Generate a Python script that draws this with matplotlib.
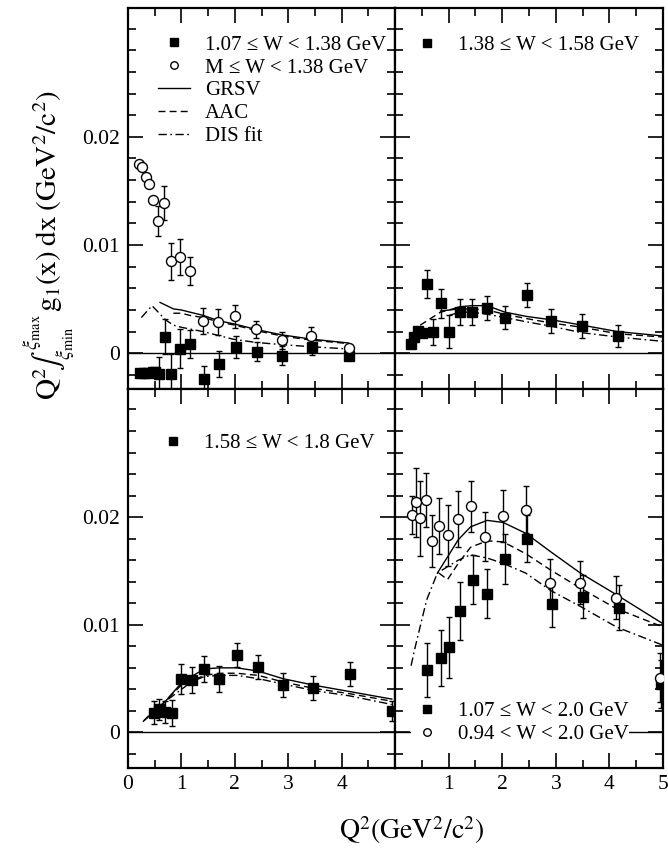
import matplotlib
matplotlib.use("Agg")
import matplotlib.pyplot as plt
from matplotlib.ticker import FixedLocator, MultipleLocator, NullFormatter

plt.rcParams['font.family'] = ['Liberation Serif', 'DejaVu Serif']
plt.rcParams['mathtext.fontset'] = 'stix'

# ---------------- data ----------------
# top-left: 1.07 <= W < 1.38 (squares), M <= W < 1.38 (circles)
tl_sq_x = [0.22, 0.30, 0.38, 0.46, 0.50, 0.585, 0.70, 0.80, 0.98, 1.16, 1.43, 1.70, 2.03, 2.41, 2.88, 3.45, 4.13]
tl_sq_y = [-0.0018, -0.00185, -0.0018, -0.0017, -0.0017, -0.0019, 0.00153, -0.0019, 0.00043, 0.00083,
           -0.00234, -0.00102, 0.00061, 0.00015, -0.00022, 0.00061, -0.00022]
tl_sq_e = [0.0002, 0.0002, 0.0002, 0.0002, 0.0002, 0.0016, 0.0016, 0.0018, 0.0018, 0.0013,
           0.0012, 0.0012, 0.0010, 0.0009, 0.0009, 0.0008, 0.0003]
tl_ci_x = [0.21, 0.26, 0.33, 0.40, 0.47, 0.57, 0.67, 0.80, 0.97, 1.16, 1.41, 1.68, 2.00, 2.40, 2.88, 3.43, 4.14]
tl_ci_y = [0.01745, 0.0172, 0.0163, 0.0156, 0.0142, 0.0122, 0.0139, 0.0085, 0.0089, 0.0076,
           0.0030, 0.0029, 0.0034, 0.0022, 0.0012, 0.0016, 0.0005]
tl_ci_e = [0.0002, 0.0002, 0.0002, 0.0002, 0.0002, 0.0014, 0.0016, 0.0017, 0.0017, 0.0013,
           0.0012, 0.0012, 0.0011, 0.0008, 0.0008, 0.0008, 0.0003]
tl_grsv_x = [0.60, 0.85, 1.00, 1.16, 1.41, 1.70, 2.00, 2.40, 2.88, 3.45, 4.13]
tl_grsv_y = [0.0047, 0.0041, 0.0040, 0.0038, 0.0035, 0.0030, 0.0027, 0.0022, 0.0017, 0.0013, 0.00095]
tl_aac_x = [0.85, 1.00, 1.16, 1.41, 1.70, 2.00, 2.40, 2.88, 3.45, 4.13]
tl_aac_y = [0.0037, 0.0037, 0.0035, 0.0033, 0.0029, 0.0026, 0.0021, 0.0016, 0.0012, 0.0009]
tl_dis_x = [0.25, 0.45, 0.70, 0.85, 1.00, 1.41, 1.97, 2.40, 2.88, 3.45, 4.13]
tl_dis_y = [0.0033, 0.0044, 0.0031, 0.0026, 0.0024, 0.0020, 0.0013, 0.0010, 0.0008, 0.0006, 0.0004]

# top-right: 1.38 <= W < 1.58
tr_sq_x = [0.29, 0.36, 0.43, 0.50, 0.60, 0.71, 0.85, 1.01, 1.21, 1.44, 1.72, 2.05, 2.46, 2.91, 3.49, 4.16]
tr_sq_y = [0.0009, 0.0015, 0.0021, 0.0019, 0.0064, 0.0020, 0.0046, 0.0020, 0.0038, 0.0038,
           0.0042, 0.0033, 0.0054, 0.0030, 0.0025, 0.0016]
tr_sq_e = [0.0002, 0.0002, 0.0002, 0.0002, 0.0013, 0.0012, 0.0013, 0.0015, 0.0012, 0.0012,
           0.0011, 0.0011, 0.0011, 0.0011, 0.0011, 0.0010]
tr_grsv_x = [0.85, 1.01, 1.21, 1.44, 1.72, 2.05, 2.46, 2.91, 3.49, 4.16, 5.0]
tr_grsv_y = [0.0039, 0.0040, 0.0043, 0.0044, 0.0044, 0.0038, 0.0034, 0.0031, 0.0026, 0.0020, 0.0016]
tr_aac_x = [0.47, 0.85, 1.01, 1.21, 1.44, 1.72, 2.05, 2.46, 2.91, 3.49, 4.16, 5.0]
tr_aac_y = [0.0026, 0.0038, 0.0040, 0.0041, 0.0041, 0.0040, 0.0036, 0.0032, 0.0028, 0.0024, 0.0018, 0.0015]
tr_dis_x = [1.01, 1.21, 1.44, 1.72, 2.05, 2.46, 2.91, 3.49, 4.16, 5.0]
tr_dis_y = [0.0035, 0.0038, 0.0038, 0.0036, 0.0033, 0.0029, 0.0025, 0.0019, 0.0015, 0.0011]

# bottom-left: 1.58 <= W < 1.8
bl_sq_x = [0.49, 0.58, 0.70, 0.83, 1.00, 1.19, 1.43, 1.70, 2.04, 2.44, 2.90, 3.47, 4.15, 4.94]
bl_sq_y = [0.00185, 0.00215, 0.0019, 0.0018, 0.0050, 0.0049, 0.0059, 0.0050, 0.0072, 0.0061,
           0.0044, 0.0041, 0.0054, 0.0020]
bl_sq_e = [0.0011, 0.0010, 0.0010, 0.0012, 0.0014, 0.0012, 0.0012, 0.0012, 0.0011, 0.0011,
           0.0011, 0.0011, 0.0011, 0.0009]
bl_grsv_x = [0.49, 1.00, 1.19, 1.43, 1.70, 2.04, 2.44, 2.90, 3.47, 4.15, 4.94]
bl_grsv_y = [0.0017, 0.0046, 0.0052, 0.0059, 0.0060, 0.0060, 0.0057, 0.0050, 0.0044, 0.0038, 0.0031]
bl_aac_x = [0.30, 0.49, 1.00, 1.19, 1.43, 1.70, 2.04, 2.44, 2.90, 3.47, 4.15, 4.94]
bl_aac_y = [0.0011, 0.0019, 0.0044, 0.0048, 0.0053, 0.0055, 0.0055, 0.0053, 0.0047, 0.0041, 0.0036, 0.0029]
bl_dis_x = [0.28, 0.49, 1.00, 1.19, 1.43, 1.70, 2.04, 2.44, 2.90, 3.47, 4.15, 4.94]
bl_dis_y = [0.0010, 0.0021, 0.0040, 0.0047, 0.0052, 0.0053, 0.0053, 0.0050, 0.0045, 0.0039, 0.0034, 0.0026]

# bottom-right: 1.07 <= W < 2.0 (squares), 0.94 < W < 2.0 (circles)
br_sq_x = [0.59, 0.85, 1.01, 1.21, 1.45, 1.72, 2.05, 2.46, 2.92, 3.50, 4.17, 4.97]
br_sq_y = [0.0058, 0.0069, 0.0079, 0.0113, 0.0142, 0.0129, 0.0161, 0.0180, 0.0119, 0.0126, 0.0116, 0.0045]
br_sq_e = [0.0025, 0.0026, 0.0028, 0.0027, 0.0023, 0.0023, 0.0023, 0.0022, 0.0021, 0.0020, 0.0021, 0.0022]
br_ci_x = [0.32, 0.39, 0.47, 0.57, 0.69, 0.82, 0.98, 1.18, 1.41, 1.68, 2.02, 2.44, 2.90, 3.46, 4.13, 4.94]
br_ci_y = [0.0202, 0.0214, 0.0199, 0.0216, 0.0178, 0.0192, 0.0183, 0.0198, 0.0210, 0.0182,
           0.0201, 0.0207, 0.0139, 0.0139, 0.0125, 0.0051]
br_ci_e = [0.0018, 0.0032, 0.0035, 0.0025, 0.0024, 0.0026, 0.0028, 0.0026, 0.0024, 0.0023,
           0.0024, 0.0022, 0.0022, 0.0020, 0.0020, 0.0023]
br_grsv_x = [0.79, 0.98, 1.18, 1.41, 1.72, 2.02, 2.44, 2.90, 3.46, 4.13, 5.0]
br_grsv_y = [0.0148, 0.0163, 0.0179, 0.0191, 0.0197, 0.0195, 0.0185, 0.0168, 0.0148, 0.0128, 0.0101]
br_aac_x = [0.82, 0.98, 1.18, 1.41, 1.72, 2.02, 2.44, 2.90, 3.46, 4.13, 5.0]
br_aac_y = [0.0148, 0.0142, 0.0157, 0.0172, 0.0178, 0.0177, 0.0166, 0.0151, 0.0134, 0.0115, 0.0098]
br_dis_x = [0.30, 0.38, 0.59, 0.79, 0.98, 1.18, 1.41, 1.72, 2.02, 2.44, 2.90, 3.46, 4.13, 5.0]
br_dis_y = [0.0062, 0.0080, 0.0123, 0.0148, 0.0154, 0.0160, 0.0165, 0.0162, 0.0157, 0.0148,
            0.0132, 0.0117, 0.0098, 0.0081]

leg_tl = ['1.07 ≤ W < 1.38 GeV', 'M ≤ W < 1.38 GeV', 'GRSV', 'AAC', 'DIS fit']
leg_tr = '1.38 ≤ W < 1.58 GeV'
leg_bl = '1.58 ≤ W < 1.8 GeV'
leg_br = ['1.07 ≤ W < 2.0 GeV', '0.94 < W < 2.0 GeV']

# ---------------- figure ----------------
W, H = 668, 849
fig = plt.figure(figsize=(W / 100, H / 100), dpi=100)

def ax_at(x0, y0, x1, y1):
    return fig.add_axes([x0 / W, 1 - y1 / H, (x1 - x0) / W, (y1 - y0) / H])

ax_tl = ax_at(128, 8, 395, 389)
ax_tr = ax_at(395, 8, 663, 389)
ax_bl = ax_at(128, 389, 395, 768)
ax_br = ax_at(395, 389, 663, 768)

TICK_FS = 15.5
LEG_FS = 15
MS_SQ = 6.8
MS_CI = 7.2

def style(ax, left_labels, bottom_labels, xlabels):
    ax.set_xlim(0, 5)
    ax.set_ylim(-0.0033, 0.0319)
    ax.axhline(0, color='black', lw=1.0, zorder=1)
    ax.xaxis.set_major_locator(FixedLocator([0, 1, 2, 3, 4, 5]))
    ax.xaxis.set_minor_locator(MultipleLocator(0.5))
    ax.yaxis.set_major_locator(FixedLocator([0, 0.01, 0.02]))
    ax.yaxis.set_minor_locator(MultipleLocator(0.002))
    ax.tick_params(which='both', direction='in', top=True, right=True, width=1.2,
                   labelsize=TICK_FS)
    ax.tick_params(which='major', length=10.5)
    ax.tick_params(which='minor', length=5.5)
    for s in ax.spines.values():
        s.set_linewidth(1.6)
    if left_labels:
        ax.set_yticklabels(['0', '0.01', '0.02'])
    else:
        ax.yaxis.set_major_formatter(NullFormatter())
    if bottom_labels:
        ax.set_xticklabels(xlabels)
    else:
        ax.xaxis.set_major_formatter(NullFormatter())
    ax.tick_params(axis='x', pad=5)
    ax.tick_params(axis='y', pad=6)

def squares(ax, x, y, e, label=None):
    ax.errorbar(x, y, yerr=e, fmt='none', ecolor='black', elinewidth=1.0, capsize=2, capthick=1.0, zorder=3)
    h, = ax.plot(x, y, 's', color='black', ms=MS_SQ, zorder=4, label=label, linestyle='none')
    return h

def circles(ax, x, y, e, label=None):
    ax.errorbar(x, y, yerr=e, fmt='none', ecolor='black', elinewidth=1.0, capsize=2, capthick=1.0, zorder=3)
    h, = ax.plot(x, y, 'o', mfc='white', mec='black', mew=1.0, ms=MS_CI, zorder=4, label=label, linestyle='none')
    return h

def curves(ax, gx, gy, ax_, ay, dx, dy):
    h1, = ax.plot(gx, gy, '-', color='black', lw=1.0, zorder=2)
    h2, = ax.plot(ax_, ay, color='black', lw=1.0, dashes=(5, 3), zorder=2)
    h3, = ax.plot(dx, dy, color='black', lw=1.0, dashes=(6, 2.5, 1.2, 2.5), zorder=2)
    return h1, h2, h3

leg_kw = dict(frameon=False, fontsize=LEG_FS, handlelength=1.54, handletextpad=0.72,
              labelspacing=0.16, borderpad=0, borderaxespad=0, markerscale=0.75)

# top-left
hs = squares(ax_tl, tl_sq_x, tl_sq_y, tl_sq_e)
hc = circles(ax_tl, tl_ci_x, tl_ci_y, tl_ci_e)
g, a, d = curves(ax_tl, tl_grsv_x, tl_grsv_y, tl_aac_x, tl_aac_y, tl_dis_x, tl_dis_y)
style(ax_tl, True, False, None)
ax_tl.legend([hs, hc, g, a, d], leg_tl, loc='upper left', bbox_to_anchor=(0.112, 0.929), **leg_kw)

# top-right
hs = squares(ax_tr, tr_sq_x, tr_sq_y, tr_sq_e)
curves(ax_tr, tr_grsv_x, tr_grsv_y, tr_aac_x, tr_aac_y, tr_dis_x, tr_dis_y)
style(ax_tr, False, False, None)
ax_tr.legend([hs], [leg_tr], loc='upper left', bbox_to_anchor=(0.06, 0.927), **leg_kw)

# bottom-left
hs = squares(ax_bl, bl_sq_x, bl_sq_y, bl_sq_e)
curves(ax_bl, bl_grsv_x, bl_grsv_y, bl_aac_x, bl_aac_y, bl_dis_x, bl_dis_y)
style(ax_bl, True, True, ['0', '1', '2', '3', '4', ''])
ax_bl.legend([hs], [leg_bl], loc='upper left', bbox_to_anchor=(0.109, 0.883), **leg_kw)

# bottom-right
hs = squares(ax_br, br_sq_x, br_sq_y, br_sq_e)
hc = circles(ax_br, br_ci_x, br_ci_y, br_ci_e)
curves(ax_br, br_grsv_x, br_grsv_y, br_aac_x, br_aac_y, br_dis_x, br_dis_y)
style(ax_br, False, True, ['', '1', '2', '3', '4', '5'])
kw = dict(leg_kw)
kw['frameon'] = True
leg = ax_br.legend([hs, hc], leg_br, loc='upper left', bbox_to_anchor=(0.06, 0.176), **kw)
leg.get_frame().set_facecolor('white')
leg.get_frame().set_edgecolor('none')
leg.get_frame().set_alpha(1)
leg.set_zorder(5)

# axis titles
fig.text(50 / W, 1 - 245 / H,
         r'$\mathrm{Q}^2\!\int_{\xi_{\min}}^{\xi_{\max}}\,\mathrm{g}_1(\mathrm{x})\;\mathrm{dx}\;(\mathrm{GeV}^2/\mathrm{c}^2)$',
         rotation=90, ha='center', va='center', fontsize=21)
fig.text(412 / W, 1 - 830 / H, r'$\mathrm{Q}^2(\mathrm{GeV}^2/\mathrm{c}^2)$',
         ha='center', va='center', fontsize=20)

fig.savefig('out.png', dpi=100)
